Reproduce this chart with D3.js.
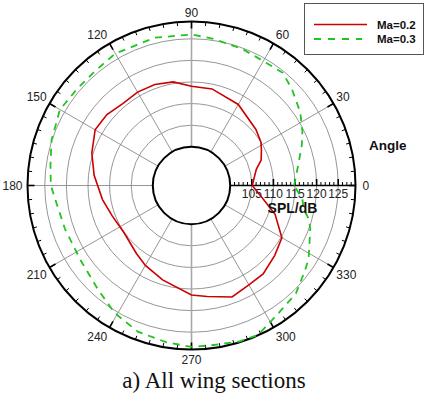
<!DOCTYPE html>
<html>
<head>
<meta charset="utf-8">
<script src="https://cdn.jsdelivr.net/npm/d3@7"></script>
<style>
  html, body { margin: 0; padding: 0; background: #fff; }
  svg { display: block; }
</style>
</head>
<body>
<svg id="chart" width="424" height="396"></svg>
<script>
// Polar directivity of SPL (dB) versus observer angle (degrees, counter-clockwise from 0)
const seriesNames = ["Ma=0.2", "Ma=0.3"];
const seriesColors = ["#cc0000", "#22c322"];

const ma02Angles = [0, 14, 20, 27, 32, 41, 60, 78, 90, 100, 110, 120, 130, 140, 150, 162, 174,
  189, 201, 215, 231, 240, 253, 270, 278, 290, 300, 309, 320, 330, 341, 350, 360];
const ma02Spl = [105.1, 106.5, 108.2, 109.2, 110.0, 110.8, 112.7, 113.9, 114.0, 115.4, 115.9, 116.0, 115.8, 116.6, 116.8, 115.3, 113.7,
  111.9, 110.7, 110.1, 111.3, 112.4, 113.9, 116.4, 117.0, 118.5, 117.6, 117.4, 116.2, 115.2, 111.5, 107.7, 105.1];

const ma03Angles = [0, 12, 20, 26, 34, 44, 51, 60, 70, 82, 90, 104, 120, 130, 140, 150, 162, 172, 180,
  188, 199, 214, 228, 239, 250, 261, 270, 277, 287, 294, 303, 314, 323, 328, 340, 344, 348, 353, 360];
const ma03Spl = [114.8, 116.4, 118.2, 119.6, 121.4, 123.3, 124.6, 124.3, 124.8, 125.4, 126.0, 126.3, 126.3, 125.7, 125.7, 126.2, 125.1, 124.0, 123.6,
  122.5, 122.0, 122.0, 123.4, 125.5, 127.1, 127.8, 128.4, 128.3, 128.8, 128.9, 127.0, 125.8, 123.9, 123.0, 120.3, 119.3, 117.6, 116.9, 114.8];

const splDomain = [100, 129];
const gridLevels = [105, 110, 115, 120, 125];
const radialTickLabels = ["105", "110", "115", "120", "125"];
const angleTickValues = [0, 30, 60, 90, 120, 150, 180, 210, 240, 270, 300, 330];
const angleTickLabels = ["0", "30", "60", "90", "120", "150", "180", "210", "240", "270", "300", "330"];

const svg = d3.select("#chart");
const cx = 191.5, cy = 185.5, R = 164, r0 = 38.7;

const rScale = d3.scaleLinear().domain(splDomain).range([r0, R]);
const angScale = d3.scaleLinear().domain([0, 360]).range([0, 2 * Math.PI]);

const g = svg.append("g").attr("transform", `translate(${cx},${cy})`);

// x/y from polar (math convention: 0 deg to the right, counter-clockwise)
const px = (deg, r) => r * Math.cos(angScale(deg));
const py = (deg, r) => -r * Math.sin(angScale(deg));

// grid circles
g.selectAll("circle.grid").data(gridLevels).join("circle")
  .attr("class", "grid")
  .attr("r", d => rScale(d))
  .attr("fill", "none").attr("stroke", "#8a8a8a").attr("stroke-width", 0.9);

// spoke lines every 30 deg (0 deg is the radial axis itself)
g.selectAll("line.spoke").data(angleTickValues.filter(d => d !== 0)).join("line")
  .attr("class", "spoke")
  .attr("x1", d => px(d, r0)).attr("y1", d => py(d, r0))
  .attr("x2", d => px(d, R)).attr("y2", d => py(d, R))
  .attr("stroke", d => (d === 90 || d === 270) ? "#a8a8a8" : "#8a8a8a")
  .attr("stroke-width", d => (d === 90 || d === 270) ? 1.6 : 0.9);

// inner and outer boundaries
g.append("circle").attr("r", r0).attr("fill", "#fff").attr("stroke", "#000").attr("stroke-width", 2);
g.append("circle").attr("r", R).attr("fill", "none").attr("stroke", "#000").attr("stroke-width", 2);

// angular minor ticks every 5 deg, major every 30 deg
const minorAngles = d3.range(0, 360, 5).filter(d => d % 30 !== 0);
g.selectAll("line.amin").data(minorAngles).join("line")
  .attr("x1", d => px(d, R)).attr("y1", d => py(d, R))
  .attr("x2", d => px(d, R - 4)).attr("y2", d => py(d, R - 4))
  .attr("stroke", "#000").attr("stroke-width", 1);
g.selectAll("line.amaj").data(angleTickValues).join("line")
  .attr("x1", d => px(d, R)).attr("y1", d => py(d, R))
  .attr("x2", d => px(d, R - 7)).attr("y2", d => py(d, R - 7))
  .attr("stroke", "#000").attr("stroke-width", 1.6);

// angular labels
g.selectAll("text.alab").data(angleTickValues).join("text")
  .attr("class", "alab")
  .each(function (d, i) {
    const c = Math.cos(angScale(d)), s = Math.sin(angScale(d));
    let dx, dy, anchor;
    if (d === 0) { dx = 7; anchor = "start"; }
    else if (d === 180) { dx = -5; anchor = "end"; }
    else if (Math.abs(c) < 0.01) { dx = 0; anchor = "middle"; }
    else { dx = Math.sign(c) * (1.5 + 1.5 * Math.abs(c)); anchor = c > 0 ? "start" : "end"; }
    if (s > 0.01) dy = 0.5 - 5.5 * s;
    else if (s < -0.01) dy = 8.6 + 5.6 * Math.abs(s);
    else dy = 4.3;
    d3.select(this)
      .attr("x", px(d, R) + dx).attr("y", py(d, R) + dy)
      .attr("text-anchor", anchor)
      .text(angleTickLabels[i]);
  })
  .attr("font-family", "Arial, 'Liberation Sans', sans-serif")
  .attr("font-size", 12).attr("fill", "#222");

// radial axis along 0 deg
g.append("line").attr("x1", r0).attr("y1", 0).attr("x2", R).attr("y2", 0)
  .attr("stroke", "#000").attr("stroke-width", 1.6);
const radMinor = d3.range(101, 129).filter(v => v % 5 !== 0);
g.selectAll("line.rmin").data(radMinor).join("line")
  .attr("x1", d => rScale(d)).attr("x2", d => rScale(d))
  .attr("y1", 0).attr("y2", -3.5)
  .attr("stroke", "#000").attr("stroke-width", 1);
g.selectAll("line.rmaj").data(gridLevels).join("line")
  .attr("x1", d => rScale(d)).attr("x2", d => rScale(d))
  .attr("y1", 0).attr("y2", -6.5)
  .attr("stroke", "#000").attr("stroke-width", 1.6);
g.selectAll("text.rlab").data(gridLevels).join("text")
  .attr("x", d => rScale(d)).attr("y", 12.8)
  .attr("text-anchor", "middle")
  .attr("font-family", "Arial, 'Liberation Sans', sans-serif")
  .attr("font-size", 12).attr("fill", "#222")
  .text((d, i) => radialTickLabels[i]);

// data curves
const line = d3.lineRadial()
  .angle(d => Math.PI / 2 - angScale(d[0]))
  .radius(d => rScale(d[1]))
  .curve(d3.curveLinear);

const ma02 = ma02Angles.map((a, i) => [a, ma02Spl[i]]);
const ma03 = ma03Angles.map((a, i) => [a, ma03Spl[i]]);

g.append("path").attr("d", line(ma02))
  .attr("fill", "none").attr("stroke", seriesColors[0]).attr("stroke-width", 1.6);
g.append("path").attr("d", line(ma03))
  .attr("fill", "none").attr("stroke", seriesColors[1]).attr("stroke-width", 1.8)
  .attr("stroke-dasharray", "7,6");

// axis titles
svg.append("text").attr("x", 292.5).attr("y", 213)
  .attr("text-anchor", "middle")
  .attr("font-family", "Arial, 'Liberation Sans', sans-serif")
  .attr("font-weight", "bold").attr("font-size", 14).attr("fill", "#111")
  .text("SPL/dB");
svg.append("text").attr("x", 369).attr("y", 150)
  .attr("font-family", "Arial, 'Liberation Sans', sans-serif")
  .attr("font-weight", "bold").attr("font-size", 13.5).attr("fill", "#111")
  .text("Angle");

// legend
const lg = svg.append("g");
lg.append("rect").attr("x", 304.5).attr("y", 3.5).attr("width", 119).attr("height", 51)
  .attr("fill", "#fff").attr("stroke", "#555").attr("stroke-width", 1);
const legendRows = [24.5, 39];
seriesNames.forEach((name, i) => {
  lg.append("line").attr("x1", 314).attr("x2", i === 0 ? 367 : 362)
    .attr("y1", legendRows[i]).attr("y2", legendRows[i])
    .attr("stroke", seriesColors[i]).attr("stroke-width", i === 0 ? 1.6 : 1.8)
    .attr("stroke-dasharray", i === 0 ? null : "7,7");
  lg.append("text").attr("x", 377).attr("y", legendRows[i] + 4)
    .attr("font-family", "Arial, 'Liberation Sans', sans-serif")
    .attr("font-weight", "bold").attr("font-size", 11.5).attr("fill", "#111")
    .text(name);
});

// caption
svg.append("text").attr("x", 214).attr("y", 388)
  .attr("text-anchor", "middle")
  .attr("font-family", "'Times New Roman', 'Liberation Serif', serif")
  .attr("font-size", 23).attr("fill", "#111")
  .text("a) All wing sections");
</script>
</body>
</html>
